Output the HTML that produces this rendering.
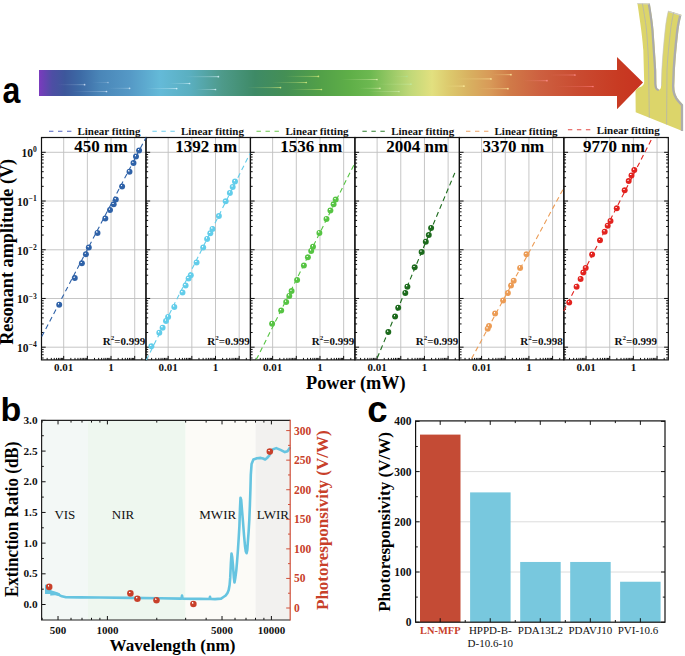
<!DOCTYPE html>
<html><head><meta charset="utf-8"><title>Figure</title>
<style>html,body{margin:0;padding:0;background:#fff;width:685px;height:656px;overflow:hidden;}svg{display:block;}</style>
</head><body>
<svg width="685" height="656" viewBox="0 0 685 656"><defs><linearGradient id="sk0" x1="0" x2="1" y1="0" y2="0"><stop offset="0" stop-color="#cfe0f5" stop-opacity="0"/><stop offset="0.7" stop-color="#cfe0f5" stop-opacity="0.225"/><stop offset="1" stop-color="#cfe0f5" stop-opacity="0.45"/></linearGradient><linearGradient id="sk1" x1="0" x2="1" y1="0" y2="0"><stop offset="0" stop-color="#e0ecff" stop-opacity="0"/><stop offset="0.7" stop-color="#e0ecff" stop-opacity="0.225"/><stop offset="1" stop-color="#e0ecff" stop-opacity="0.45"/></linearGradient><linearGradient id="sk2" x1="0" x2="1" y1="0" y2="0"><stop offset="0" stop-color="#d0e8f8" stop-opacity="0"/><stop offset="0.7" stop-color="#d0e8f8" stop-opacity="0.225"/><stop offset="1" stop-color="#d0e8f8" stop-opacity="0.45"/></linearGradient><linearGradient id="sk3" x1="0" x2="1" y1="0" y2="0"><stop offset="0" stop-color="#a0c0e0" stop-opacity="0"/><stop offset="0.7" stop-color="#a0c0e0" stop-opacity="0.225"/><stop offset="1" stop-color="#a0c0e0" stop-opacity="0.45"/></linearGradient><linearGradient id="sk4" x1="0" x2="1" y1="0" y2="0"><stop offset="0" stop-color="#d8f4ff" stop-opacity="0"/><stop offset="0.7" stop-color="#d8f4ff" stop-opacity="0.35"/><stop offset="1" stop-color="#d8f4ff" stop-opacity="0.7"/></linearGradient><linearGradient id="sk5" x1="0" x2="1" y1="0" y2="0"><stop offset="0" stop-color="#d8f4ff" stop-opacity="0"/><stop offset="0.7" stop-color="#d8f4ff" stop-opacity="0.35"/><stop offset="1" stop-color="#d8f4ff" stop-opacity="0.7"/></linearGradient><linearGradient id="sk6" x1="0" x2="1" y1="0" y2="0"><stop offset="0" stop-color="#d8f4ff" stop-opacity="0"/><stop offset="0.7" stop-color="#d8f4ff" stop-opacity="0.35"/><stop offset="1" stop-color="#d8f4ff" stop-opacity="0.7"/></linearGradient><linearGradient id="sk7" x1="0" x2="1" y1="0" y2="0"><stop offset="0" stop-color="#d8f4ff" stop-opacity="0"/><stop offset="0.7" stop-color="#d8f4ff" stop-opacity="0.35"/><stop offset="1" stop-color="#d8f4ff" stop-opacity="0.7"/></linearGradient><linearGradient id="sk8" x1="0" x2="1" y1="0" y2="0"><stop offset="0" stop-color="#d8ec80" stop-opacity="0"/><stop offset="0.7" stop-color="#d8ec80" stop-opacity="0.35"/><stop offset="1" stop-color="#d8ec80" stop-opacity="0.7"/></linearGradient><linearGradient id="sk9" x1="0" x2="1" y1="0" y2="0"><stop offset="0" stop-color="#d8ec80" stop-opacity="0"/><stop offset="0.7" stop-color="#d8ec80" stop-opacity="0.35"/><stop offset="1" stop-color="#d8ec80" stop-opacity="0.7"/></linearGradient><linearGradient id="sk10" x1="0" x2="1" y1="0" y2="0"><stop offset="0" stop-color="#d8ec80" stop-opacity="0"/><stop offset="0.7" stop-color="#d8ec80" stop-opacity="0.35"/><stop offset="1" stop-color="#d8ec80" stop-opacity="0.7"/></linearGradient><linearGradient id="sk11" x1="0" x2="1" y1="0" y2="0"><stop offset="0" stop-color="#d8ec80" stop-opacity="0"/><stop offset="0.7" stop-color="#d8ec80" stop-opacity="0.35"/><stop offset="1" stop-color="#d8ec80" stop-opacity="0.7"/></linearGradient><linearGradient id="sk12" x1="0" x2="1" y1="0" y2="0"><stop offset="0" stop-color="#e0f0b0" stop-opacity="0"/><stop offset="0.7" stop-color="#e0f0b0" stop-opacity="0.35"/><stop offset="1" stop-color="#e0f0b0" stop-opacity="0.7"/></linearGradient><linearGradient id="sk13" x1="0" x2="1" y1="0" y2="0"><stop offset="0" stop-color="#c0e8a0" stop-opacity="0"/><stop offset="0.7" stop-color="#c0e8a0" stop-opacity="0.35"/><stop offset="1" stop-color="#c0e8a0" stop-opacity="0.7"/></linearGradient><linearGradient id="sk14" x1="0" x2="1" y1="0" y2="0"><stop offset="0" stop-color="#e0f0b0" stop-opacity="0"/><stop offset="0.7" stop-color="#e0f0b0" stop-opacity="0.35"/><stop offset="1" stop-color="#e0f0b0" stop-opacity="0.7"/></linearGradient><linearGradient id="sk15" x1="0" x2="1" y1="0" y2="0"><stop offset="0" stop-color="#c8eca8" stop-opacity="0"/><stop offset="0.7" stop-color="#c8eca8" stop-opacity="0.35"/><stop offset="1" stop-color="#c8eca8" stop-opacity="0.7"/></linearGradient><linearGradient id="sk16" x1="0" x2="1" y1="0" y2="0"><stop offset="0" stop-color="#b0e090" stop-opacity="0"/><stop offset="0.7" stop-color="#b0e090" stop-opacity="0.35"/><stop offset="1" stop-color="#b0e090" stop-opacity="0.7"/></linearGradient><linearGradient id="sk17" x1="0" x2="1" y1="0" y2="0"><stop offset="0" stop-color="#fff0a0" stop-opacity="0"/><stop offset="0.7" stop-color="#fff0a0" stop-opacity="0.35"/><stop offset="1" stop-color="#fff0a0" stop-opacity="0.7"/></linearGradient><linearGradient id="sk18" x1="0" x2="1" y1="0" y2="0"><stop offset="0" stop-color="#fff0a0" stop-opacity="0"/><stop offset="0.7" stop-color="#fff0a0" stop-opacity="0.35"/><stop offset="1" stop-color="#fff0a0" stop-opacity="0.7"/></linearGradient><linearGradient id="sk19" x1="0" x2="1" y1="0" y2="0"><stop offset="0" stop-color="#fff0a0" stop-opacity="0"/><stop offset="0.7" stop-color="#fff0a0" stop-opacity="0.35"/><stop offset="1" stop-color="#fff0a0" stop-opacity="0.7"/></linearGradient><linearGradient id="sk20" x1="0" x2="1" y1="0" y2="0"><stop offset="0" stop-color="#fff0a0" stop-opacity="0"/><stop offset="0.7" stop-color="#fff0a0" stop-opacity="0.35"/><stop offset="1" stop-color="#fff0a0" stop-opacity="0.7"/></linearGradient><linearGradient id="sk21" x1="0" x2="1" y1="0" y2="0"><stop offset="0" stop-color="#ff9090" stop-opacity="0"/><stop offset="0.7" stop-color="#ff9090" stop-opacity="0.35"/><stop offset="1" stop-color="#ff9090" stop-opacity="0.7"/></linearGradient><linearGradient id="sk22" x1="0" x2="1" y1="0" y2="0"><stop offset="0" stop-color="#ff9090" stop-opacity="0"/><stop offset="0.7" stop-color="#ff9090" stop-opacity="0.35"/><stop offset="1" stop-color="#ff9090" stop-opacity="0.7"/></linearGradient><linearGradient id="sk23" x1="0" x2="1" y1="0" y2="0"><stop offset="0" stop-color="#ff8080" stop-opacity="0"/><stop offset="0.7" stop-color="#ff8080" stop-opacity="0.35"/><stop offset="1" stop-color="#ff8080" stop-opacity="0.7"/></linearGradient></defs>
<defs><radialGradient id="gb1" cx="0.5" cy="0.5" r="0.5" fx="0.36" fy="0.3"><stop offset="0" stop-color="#ffffff"/><stop offset="0.1" stop-color="#ffffff" stop-opacity="0.9"/><stop offset="0.33" stop-color="#2f62a8"/><stop offset="0.85" stop-color="#2f62a8"/><stop offset="1" stop-color="#2f62a8" stop-opacity="0.9"/></radialGradient><radialGradient id="gb2" cx="0.5" cy="0.5" r="0.5" fx="0.36" fy="0.3"><stop offset="0" stop-color="#ffffff"/><stop offset="0.1" stop-color="#ffffff" stop-opacity="0.9"/><stop offset="0.33" stop-color="#62cdea"/><stop offset="0.85" stop-color="#62cdea"/><stop offset="1" stop-color="#62cdea" stop-opacity="0.9"/></radialGradient><radialGradient id="gb3" cx="0.5" cy="0.5" r="0.5" fx="0.36" fy="0.3"><stop offset="0" stop-color="#ffffff"/><stop offset="0.1" stop-color="#ffffff" stop-opacity="0.9"/><stop offset="0.33" stop-color="#56c443"/><stop offset="0.85" stop-color="#56c443"/><stop offset="1" stop-color="#56c443" stop-opacity="0.9"/></radialGradient><radialGradient id="gb4" cx="0.5" cy="0.5" r="0.5" fx="0.36" fy="0.3"><stop offset="0" stop-color="#ffffff"/><stop offset="0.1" stop-color="#ffffff" stop-opacity="0.9"/><stop offset="0.33" stop-color="#1c6a1c"/><stop offset="0.85" stop-color="#1c6a1c"/><stop offset="1" stop-color="#1c6a1c" stop-opacity="0.9"/></radialGradient><radialGradient id="gb5" cx="0.5" cy="0.5" r="0.5" fx="0.36" fy="0.3"><stop offset="0" stop-color="#ffffff"/><stop offset="0.1" stop-color="#ffffff" stop-opacity="0.9"/><stop offset="0.33" stop-color="#ec9c55"/><stop offset="0.85" stop-color="#ec9c55"/><stop offset="1" stop-color="#ec9c55" stop-opacity="0.9"/></radialGradient><radialGradient id="gb6" cx="0.5" cy="0.5" r="0.5" fx="0.36" fy="0.3"><stop offset="0" stop-color="#ffffff"/><stop offset="0.1" stop-color="#ffffff" stop-opacity="0.9"/><stop offset="0.33" stop-color="#e2231f"/><stop offset="0.85" stop-color="#e2231f"/><stop offset="1" stop-color="#e2231f" stop-opacity="0.9"/></radialGradient><radialGradient id="grd" cx="0.5" cy="0.5" r="0.5" fx="0.36" fy="0.3"><stop offset="0" stop-color="#ffffff"/><stop offset="0.1" stop-color="#ffffff" stop-opacity="0.9"/><stop offset="0.33" stop-color="#c8402a"/><stop offset="0.85" stop-color="#c8402a"/><stop offset="1" stop-color="#c8402a" stop-opacity="0.9"/></radialGradient><linearGradient id="arrg" gradientUnits="userSpaceOnUse" x1="39" y1="0" x2="643" y2="0"><stop offset="0.0000" stop-color="#7b3bbe"/><stop offset="0.0066" stop-color="#6d40b6"/><stop offset="0.0215" stop-color="#4e4ea4"/><stop offset="0.0430" stop-color="#3d579b"/><stop offset="0.0679" stop-color="#3d6aa5"/><stop offset="0.1010" stop-color="#4a86b8"/><stop offset="0.1507" stop-color="#5599c6"/><stop offset="0.2003" stop-color="#64bad8"/><stop offset="0.2500" stop-color="#5aafc0"/><stop offset="0.3030" stop-color="#4e9a8a"/><stop offset="0.3576" stop-color="#3e8a66"/><stop offset="0.4073" stop-color="#448f55"/><stop offset="0.4652" stop-color="#52a048"/><stop offset="0.5149" stop-color="#5faf48"/><stop offset="0.5480" stop-color="#6cb850"/><stop offset="0.5811" stop-color="#96c865"/><stop offset="0.6142" stop-color="#c0d878"/><stop offset="0.6507" stop-color="#e2e07f"/><stop offset="0.6805" stop-color="#dcc86c"/><stop offset="0.7136" stop-color="#d8b060"/><stop offset="0.7467" stop-color="#d89a58"/><stop offset="0.7798" stop-color="#d07a48"/><stop offset="0.8295" stop-color="#cd6040"/><stop offset="0.8957" stop-color="#c94a30"/><stop offset="0.9619" stop-color="#c83a22"/><stop offset="1.0000" stop-color="#c83220"/></linearGradient><linearGradient id="streak" x1="0" x2="1" y1="0" y2="0"><stop offset="0" stop-color="#fff" stop-opacity="0"/><stop offset="1" stop-color="#fff" stop-opacity="0.75"/></linearGradient></defs>
<path d="M39,70 L617,70 L617,57 L643,82.6 L617,109.2 L617,96 L39,96 Z" fill="url(#arrg)"/>
<rect x="57" y="84.25" width="27.599999999999994" height="0.9" fill="url(#sk0)"/>
<circle cx="84.6" cy="84.7" r="0.85" fill="#cfe0f5" fill-opacity="0.8"/>
<rect x="72" y="91.05" width="34.5" height="0.9" fill="url(#sk1)"/>
<circle cx="106.5" cy="91.5" r="0.85" fill="#e0ecff" fill-opacity="0.8"/>
<rect x="108" y="87.85" width="21.599999999999994" height="0.9" fill="url(#sk2)"/>
<circle cx="129.6" cy="88.3" r="0.85" fill="#d0e8f8" fill-opacity="0.8"/>
<rect x="92" y="82.05" width="16" height="0.9" fill="url(#sk3)"/>
<circle cx="108" cy="82.5" r="0.85" fill="#a0c0e0" fill-opacity="0.8"/>
<rect x="146" y="88.14999999999999" width="30.69999999999999" height="0.9" fill="url(#sk4)"/>
<circle cx="176.7" cy="88.6" r="0.85" fill="#d8f4ff" fill-opacity="0.8"/>
<rect x="170" y="83.05" width="19.599999999999994" height="0.9" fill="url(#sk5)"/>
<circle cx="189.6" cy="83.5" r="0.85" fill="#d8f4ff" fill-opacity="0.8"/>
<rect x="185" y="76.25" width="33.400000000000006" height="0.9" fill="url(#sk6)"/>
<circle cx="218.4" cy="76.7" r="0.85" fill="#d8f4ff" fill-opacity="0.8"/>
<rect x="196" y="89.05" width="19.5" height="0.9" fill="url(#sk7)"/>
<circle cx="215.5" cy="89.5" r="0.85" fill="#d8f4ff" fill-opacity="0.8"/>
<rect x="285" y="75.95" width="33.39999999999998" height="0.9" fill="url(#sk8)"/>
<circle cx="318.4" cy="76.4" r="0.85" fill="#d8ec80" fill-opacity="0.8"/>
<rect x="272" y="82.05" width="34.30000000000001" height="0.9" fill="url(#sk9)"/>
<circle cx="306.3" cy="82.5" r="0.85" fill="#d8ec80" fill-opacity="0.8"/>
<rect x="247" y="87.14999999999999" width="33.5" height="0.9" fill="url(#sk10)"/>
<circle cx="280.5" cy="87.6" r="0.85" fill="#d8ec80" fill-opacity="0.8"/>
<rect x="290" y="89.05" width="31.399999999999977" height="0.9" fill="url(#sk11)"/>
<circle cx="321.4" cy="89.5" r="0.85" fill="#d8ec80" fill-opacity="0.8"/>
<rect x="341" y="79.05" width="36" height="0.9" fill="url(#sk12)"/>
<circle cx="377" cy="79.5" r="0.85" fill="#e0f0b0" fill-opacity="0.8"/>
<rect x="376" y="83.75" width="35" height="0.9" fill="url(#sk13)"/>
<circle cx="411" cy="84.2" r="0.85" fill="#c0e8a0" fill-opacity="0.8"/>
<rect x="359" y="87.85" width="21" height="0.9" fill="url(#sk14)"/>
<circle cx="380" cy="88.3" r="0.85" fill="#e0f0b0" fill-opacity="0.8"/>
<rect x="368" y="91.05" width="31" height="0.9" fill="url(#sk15)"/>
<circle cx="399" cy="91.5" r="0.85" fill="#c8eca8" fill-opacity="0.8"/>
<rect x="393" y="75.95" width="14" height="0.9" fill="url(#sk16)"/>
<circle cx="407" cy="76.4" r="0.85" fill="#b0e090" fill-opacity="0.8"/>
<rect x="455" y="78.45" width="36" height="0.9" fill="url(#sk17)"/>
<circle cx="491" cy="78.9" r="0.85" fill="#fff0a0" fill-opacity="0.8"/>
<rect x="445" y="85.64999999999999" width="19" height="0.9" fill="url(#sk18)"/>
<circle cx="464" cy="86.1" r="0.85" fill="#fff0a0" fill-opacity="0.8"/>
<rect x="478" y="88.25" width="30" height="0.9" fill="url(#sk19)"/>
<circle cx="508" cy="88.7" r="0.85" fill="#fff0a0" fill-opacity="0.8"/>
<rect x="492" y="74.25" width="19" height="0.9" fill="url(#sk20)"/>
<circle cx="511" cy="74.7" r="0.85" fill="#fff0a0" fill-opacity="0.8"/>
<rect x="550" y="74.55" width="25" height="0.9" fill="url(#sk21)"/>
<circle cx="575" cy="75" r="0.85" fill="#ff9090" fill-opacity="0.8"/>
<rect x="523" y="80.25" width="24" height="0.9" fill="url(#sk22)"/>
<circle cx="547" cy="80.7" r="0.85" fill="#ff9090" fill-opacity="0.8"/>
<rect x="556" y="86.05" width="37" height="0.9" fill="url(#sk23)"/>
<circle cx="593" cy="86.5" r="0.85" fill="#ff8080" fill-opacity="0.8"/>
<path d="M637.4,3.2 L649.7,3.6 C651.5,14 652.8,22 653.5,30 C654.6,45 655.6,60 656.2,70 L656.4,84 C656.6,88 657.5,89.8 658.8,89.8 C660.2,89.8 661,88.5 661.1,86 L661.8,70 C662.6,55 663.8,42 665.1,30 C665.9,22 667,16 668.3,10.8 L681.4,14.8 C680,20 679.2,25 678.5,30 C676.8,45 675.6,58 674.9,70 L674.3,86 C674.2,92 676,97 679.5,100.8 L683,104.8 L683,131.2 L635.7,112.3 L635.5,91 C636,89 637.5,88 639,87.5 C642,86.5 644.2,85 644.2,82 L643.3,50 C642.5,38 641,27 637.4,3.2 Z" fill="#dcd56a"/>
<path d="M648.8,3.8 C650.5,14 651.7,22 652.4,30 C653.5,45 654.5,60 655.1,70 L655.3,84 C655.5,88.5 657,90 658.8,90" fill="none" stroke="#aaaaaa" stroke-width="2.2"/>
<path d="M680.3,15 C679,20 678,25 677.3,30 C675.6,45 674.4,58 673.7,70 L673.1,86 C673,92.5 675,97.5 678.6,101.5 L682,105.3 L682,131" fill="none" stroke="#adadad" stroke-width="2.3"/>
<path d="M668.3,11.3 L681.2,15.3" stroke="#cfcfcf" stroke-width="1.3"/>
<path d="M637.4,3.6 L649.5,4" stroke="#d0d0d0" stroke-width="1.0"/>
<path d="M661.5,86 L661.9,70 C662.7,55 663.9,42 665.2,30 C666,22 667.1,16 668.4,11" fill="none" stroke="#c4c4c4" stroke-width="0.6"/>
<path d="M642.4,3.7 C644.5,15 646,25 646.5,30 C647.8,45 648.5,58 648.7,70 L649.3,117.6" fill="none" stroke="#b4b4ac" stroke-width="0.8"/>
<path d="M673.6,12.5 C672,20 671,26 670.6,30 C669,45 667.5,58 667,70 L666.6,124.5" fill="none" stroke="#b4b4ac" stroke-width="0.8"/>
<line x1="63.70" y1="137.5" x2="63.70" y2="359.9" stroke="#bfbfbf" stroke-width="0.9"/>
<line x1="87.37" y1="137.5" x2="87.37" y2="359.9" stroke="#bfbfbf" stroke-width="0.9"/>
<line x1="111.04" y1="137.5" x2="111.04" y2="359.9" stroke="#bfbfbf" stroke-width="0.9"/>
<line x1="134.71" y1="137.5" x2="134.71" y2="359.9" stroke="#bfbfbf" stroke-width="0.9"/>
<line x1="41.5" y1="152.3" x2="145.97" y2="152.3" stroke="#bfbfbf" stroke-width="0.9"/>
<line x1="41.5" y1="201.0" x2="145.97" y2="201.0" stroke="#bfbfbf" stroke-width="0.9"/>
<line x1="41.5" y1="249.8" x2="145.97" y2="249.8" stroke="#bfbfbf" stroke-width="0.9"/>
<line x1="41.5" y1="298.5" x2="145.97" y2="298.5" stroke="#bfbfbf" stroke-width="0.9"/>
<line x1="41.5" y1="347.2" x2="145.97" y2="347.2" stroke="#bfbfbf" stroke-width="0.9"/>
<line x1="168.17" y1="137.5" x2="168.17" y2="359.9" stroke="#bfbfbf" stroke-width="0.9"/>
<line x1="191.84" y1="137.5" x2="191.84" y2="359.9" stroke="#bfbfbf" stroke-width="0.9"/>
<line x1="215.51" y1="137.5" x2="215.51" y2="359.9" stroke="#bfbfbf" stroke-width="0.9"/>
<line x1="239.18" y1="137.5" x2="239.18" y2="359.9" stroke="#bfbfbf" stroke-width="0.9"/>
<line x1="145.97" y1="152.3" x2="250.44" y2="152.3" stroke="#bfbfbf" stroke-width="0.9"/>
<line x1="145.97" y1="201.0" x2="250.44" y2="201.0" stroke="#bfbfbf" stroke-width="0.9"/>
<line x1="145.97" y1="249.8" x2="250.44" y2="249.8" stroke="#bfbfbf" stroke-width="0.9"/>
<line x1="145.97" y1="298.5" x2="250.44" y2="298.5" stroke="#bfbfbf" stroke-width="0.9"/>
<line x1="145.97" y1="347.2" x2="250.44" y2="347.2" stroke="#bfbfbf" stroke-width="0.9"/>
<line x1="272.64" y1="137.5" x2="272.64" y2="359.9" stroke="#bfbfbf" stroke-width="0.9"/>
<line x1="296.31" y1="137.5" x2="296.31" y2="359.9" stroke="#bfbfbf" stroke-width="0.9"/>
<line x1="319.98" y1="137.5" x2="319.98" y2="359.9" stroke="#bfbfbf" stroke-width="0.9"/>
<line x1="343.65" y1="137.5" x2="343.65" y2="359.9" stroke="#bfbfbf" stroke-width="0.9"/>
<line x1="250.44" y1="152.3" x2="354.90999999999997" y2="152.3" stroke="#bfbfbf" stroke-width="0.9"/>
<line x1="250.44" y1="201.0" x2="354.90999999999997" y2="201.0" stroke="#bfbfbf" stroke-width="0.9"/>
<line x1="250.44" y1="249.8" x2="354.90999999999997" y2="249.8" stroke="#bfbfbf" stroke-width="0.9"/>
<line x1="250.44" y1="298.5" x2="354.90999999999997" y2="298.5" stroke="#bfbfbf" stroke-width="0.9"/>
<line x1="250.44" y1="347.2" x2="354.90999999999997" y2="347.2" stroke="#bfbfbf" stroke-width="0.9"/>
<line x1="377.11" y1="137.5" x2="377.11" y2="359.9" stroke="#bfbfbf" stroke-width="0.9"/>
<line x1="400.78" y1="137.5" x2="400.78" y2="359.9" stroke="#bfbfbf" stroke-width="0.9"/>
<line x1="424.45" y1="137.5" x2="424.45" y2="359.9" stroke="#bfbfbf" stroke-width="0.9"/>
<line x1="448.12" y1="137.5" x2="448.12" y2="359.9" stroke="#bfbfbf" stroke-width="0.9"/>
<line x1="354.90999999999997" y1="152.3" x2="459.38" y2="152.3" stroke="#bfbfbf" stroke-width="0.9"/>
<line x1="354.90999999999997" y1="201.0" x2="459.38" y2="201.0" stroke="#bfbfbf" stroke-width="0.9"/>
<line x1="354.90999999999997" y1="249.8" x2="459.38" y2="249.8" stroke="#bfbfbf" stroke-width="0.9"/>
<line x1="354.90999999999997" y1="298.5" x2="459.38" y2="298.5" stroke="#bfbfbf" stroke-width="0.9"/>
<line x1="354.90999999999997" y1="347.2" x2="459.38" y2="347.2" stroke="#bfbfbf" stroke-width="0.9"/>
<line x1="481.58" y1="137.5" x2="481.58" y2="359.9" stroke="#bfbfbf" stroke-width="0.9"/>
<line x1="505.25" y1="137.5" x2="505.25" y2="359.9" stroke="#bfbfbf" stroke-width="0.9"/>
<line x1="528.92" y1="137.5" x2="528.92" y2="359.9" stroke="#bfbfbf" stroke-width="0.9"/>
<line x1="552.59" y1="137.5" x2="552.59" y2="359.9" stroke="#bfbfbf" stroke-width="0.9"/>
<line x1="459.38" y1="152.3" x2="563.85" y2="152.3" stroke="#bfbfbf" stroke-width="0.9"/>
<line x1="459.38" y1="201.0" x2="563.85" y2="201.0" stroke="#bfbfbf" stroke-width="0.9"/>
<line x1="459.38" y1="249.8" x2="563.85" y2="249.8" stroke="#bfbfbf" stroke-width="0.9"/>
<line x1="459.38" y1="298.5" x2="563.85" y2="298.5" stroke="#bfbfbf" stroke-width="0.9"/>
<line x1="459.38" y1="347.2" x2="563.85" y2="347.2" stroke="#bfbfbf" stroke-width="0.9"/>
<line x1="586.05" y1="137.5" x2="586.05" y2="359.9" stroke="#bfbfbf" stroke-width="0.9"/>
<line x1="609.72" y1="137.5" x2="609.72" y2="359.9" stroke="#bfbfbf" stroke-width="0.9"/>
<line x1="633.39" y1="137.5" x2="633.39" y2="359.9" stroke="#bfbfbf" stroke-width="0.9"/>
<line x1="657.06" y1="137.5" x2="657.06" y2="359.9" stroke="#bfbfbf" stroke-width="0.9"/>
<line x1="563.85" y1="152.3" x2="668.3199999999999" y2="152.3" stroke="#bfbfbf" stroke-width="0.9"/>
<line x1="563.85" y1="201.0" x2="668.3199999999999" y2="201.0" stroke="#bfbfbf" stroke-width="0.9"/>
<line x1="563.85" y1="249.8" x2="668.3199999999999" y2="249.8" stroke="#bfbfbf" stroke-width="0.9"/>
<line x1="563.85" y1="298.5" x2="668.3199999999999" y2="298.5" stroke="#bfbfbf" stroke-width="0.9"/>
<line x1="563.85" y1="347.2" x2="668.3199999999999" y2="347.2" stroke="#bfbfbf" stroke-width="0.9"/>
<path d="M41.50,357.99h2.2M41.50,354.73h2.2M41.50,351.90h2.2M41.50,349.41h2.2M41.50,347.18h4.2M41.50,332.51h2.2M41.50,323.93h2.2M41.50,317.85h2.2M41.50,313.13h2.2M41.50,309.27h2.2M41.50,306.01h2.2M41.50,303.18h2.2M41.50,300.69h2.2M41.50,298.46h4.2M41.50,283.79h2.2M41.50,275.21h2.2M41.50,269.13h2.2M41.50,264.41h2.2M41.50,260.55h2.2M41.50,257.29h2.2M41.50,254.46h2.2M41.50,251.97h2.2M41.50,249.74h4.2M41.50,235.07h2.2M41.50,226.49h2.2M41.50,220.41h2.2M41.50,215.69h2.2M41.50,211.83h2.2M41.50,208.57h2.2M41.50,205.74h2.2M41.50,203.25h2.2M41.50,201.02h4.2M41.50,186.35h2.2M41.50,177.77h2.2M41.50,171.69h2.2M41.50,166.97h2.2M41.50,163.11h2.2M41.50,159.85h2.2M41.50,157.02h2.2M41.50,154.53h2.2M41.50,152.30h4.2M41.50,137.63h2.2M47.16,359.9v-2.0M51.32,359.9v-2.0M54.28,359.9v-2.0M56.57,359.9v-2.0M58.45,359.9v-2.0M60.03,359.9v-2.0M61.41,359.9v-2.0M62.62,359.9v-2.0M63.70,359.9v-4.0M70.83,359.9v-2.0M74.99,359.9v-2.0M77.95,359.9v-2.0M80.24,359.9v-2.0M82.12,359.9v-2.0M83.70,359.9v-2.0M85.08,359.9v-2.0M86.29,359.9v-2.0M87.37,359.9v-4.0M94.50,359.9v-2.0M98.66,359.9v-2.0M101.62,359.9v-2.0M103.91,359.9v-2.0M105.79,359.9v-2.0M107.37,359.9v-2.0M108.75,359.9v-2.0M109.96,359.9v-2.0M111.04,359.9v-4.0M118.17,359.9v-2.0M122.33,359.9v-2.0M125.29,359.9v-2.0M127.58,359.9v-2.0M129.46,359.9v-2.0M131.04,359.9v-2.0M132.42,359.9v-2.0M133.63,359.9v-2.0M134.71,359.9v-4.0M141.84,359.9v-2.0M145.97,357.99h2.2M145.97,354.73h2.2M145.97,351.90h2.2M145.97,349.41h2.2M145.97,347.18h4.2M145.97,332.51h2.2M145.97,323.93h2.2M145.97,317.85h2.2M145.97,313.13h2.2M145.97,309.27h2.2M145.97,306.01h2.2M145.97,303.18h2.2M145.97,300.69h2.2M145.97,298.46h4.2M145.97,283.79h2.2M145.97,275.21h2.2M145.97,269.13h2.2M145.97,264.41h2.2M145.97,260.55h2.2M145.97,257.29h2.2M145.97,254.46h2.2M145.97,251.97h2.2M145.97,249.74h4.2M145.97,235.07h2.2M145.97,226.49h2.2M145.97,220.41h2.2M145.97,215.69h2.2M145.97,211.83h2.2M145.97,208.57h2.2M145.97,205.74h2.2M145.97,203.25h2.2M145.97,201.02h4.2M145.97,186.35h2.2M145.97,177.77h2.2M145.97,171.69h2.2M145.97,166.97h2.2M145.97,163.11h2.2M145.97,159.85h2.2M145.97,157.02h2.2M145.97,154.53h2.2M145.97,152.30h4.2M145.97,137.63h2.2M151.63,359.9v-2.0M155.79,359.9v-2.0M158.75,359.9v-2.0M161.04,359.9v-2.0M162.92,359.9v-2.0M164.50,359.9v-2.0M165.88,359.9v-2.0M167.09,359.9v-2.0M168.17,359.9v-4.0M175.30,359.9v-2.0M179.46,359.9v-2.0M182.42,359.9v-2.0M184.71,359.9v-2.0M186.59,359.9v-2.0M188.17,359.9v-2.0M189.55,359.9v-2.0M190.76,359.9v-2.0M191.84,359.9v-4.0M198.97,359.9v-2.0M203.13,359.9v-2.0M206.09,359.9v-2.0M208.38,359.9v-2.0M210.26,359.9v-2.0M211.84,359.9v-2.0M213.22,359.9v-2.0M214.43,359.9v-2.0M215.51,359.9v-4.0M222.64,359.9v-2.0M226.80,359.9v-2.0M229.76,359.9v-2.0M232.05,359.9v-2.0M233.93,359.9v-2.0M235.51,359.9v-2.0M236.89,359.9v-2.0M238.10,359.9v-2.0M239.18,359.9v-4.0M246.31,359.9v-2.0M250.44,357.99h2.2M250.44,354.73h2.2M250.44,351.90h2.2M250.44,349.41h2.2M250.44,347.18h4.2M250.44,332.51h2.2M250.44,323.93h2.2M250.44,317.85h2.2M250.44,313.13h2.2M250.44,309.27h2.2M250.44,306.01h2.2M250.44,303.18h2.2M250.44,300.69h2.2M250.44,298.46h4.2M250.44,283.79h2.2M250.44,275.21h2.2M250.44,269.13h2.2M250.44,264.41h2.2M250.44,260.55h2.2M250.44,257.29h2.2M250.44,254.46h2.2M250.44,251.97h2.2M250.44,249.74h4.2M250.44,235.07h2.2M250.44,226.49h2.2M250.44,220.41h2.2M250.44,215.69h2.2M250.44,211.83h2.2M250.44,208.57h2.2M250.44,205.74h2.2M250.44,203.25h2.2M250.44,201.02h4.2M250.44,186.35h2.2M250.44,177.77h2.2M250.44,171.69h2.2M250.44,166.97h2.2M250.44,163.11h2.2M250.44,159.85h2.2M250.44,157.02h2.2M250.44,154.53h2.2M250.44,152.30h4.2M250.44,137.63h2.2M256.10,359.9v-2.0M260.26,359.9v-2.0M263.22,359.9v-2.0M265.51,359.9v-2.0M267.39,359.9v-2.0M268.97,359.9v-2.0M270.35,359.9v-2.0M271.56,359.9v-2.0M272.64,359.9v-4.0M279.77,359.9v-2.0M283.93,359.9v-2.0M286.89,359.9v-2.0M289.18,359.9v-2.0M291.06,359.9v-2.0M292.64,359.9v-2.0M294.02,359.9v-2.0M295.23,359.9v-2.0M296.31,359.9v-4.0M303.44,359.9v-2.0M307.60,359.9v-2.0M310.56,359.9v-2.0M312.85,359.9v-2.0M314.73,359.9v-2.0M316.31,359.9v-2.0M317.69,359.9v-2.0M318.90,359.9v-2.0M319.98,359.9v-4.0M327.11,359.9v-2.0M331.27,359.9v-2.0M334.23,359.9v-2.0M336.52,359.9v-2.0M338.40,359.9v-2.0M339.98,359.9v-2.0M341.36,359.9v-2.0M342.57,359.9v-2.0M343.65,359.9v-4.0M350.78,359.9v-2.0M354.91,357.99h2.2M354.91,354.73h2.2M354.91,351.90h2.2M354.91,349.41h2.2M354.91,347.18h4.2M354.91,332.51h2.2M354.91,323.93h2.2M354.91,317.85h2.2M354.91,313.13h2.2M354.91,309.27h2.2M354.91,306.01h2.2M354.91,303.18h2.2M354.91,300.69h2.2M354.91,298.46h4.2M354.91,283.79h2.2M354.91,275.21h2.2M354.91,269.13h2.2M354.91,264.41h2.2M354.91,260.55h2.2M354.91,257.29h2.2M354.91,254.46h2.2M354.91,251.97h2.2M354.91,249.74h4.2M354.91,235.07h2.2M354.91,226.49h2.2M354.91,220.41h2.2M354.91,215.69h2.2M354.91,211.83h2.2M354.91,208.57h2.2M354.91,205.74h2.2M354.91,203.25h2.2M354.91,201.02h4.2M354.91,186.35h2.2M354.91,177.77h2.2M354.91,171.69h2.2M354.91,166.97h2.2M354.91,163.11h2.2M354.91,159.85h2.2M354.91,157.02h2.2M354.91,154.53h2.2M354.91,152.30h4.2M354.91,137.63h2.2M360.57,359.9v-2.0M364.73,359.9v-2.0M367.69,359.9v-2.0M369.98,359.9v-2.0M371.86,359.9v-2.0M373.44,359.9v-2.0M374.82,359.9v-2.0M376.03,359.9v-2.0M377.11,359.9v-4.0M384.24,359.9v-2.0M388.40,359.9v-2.0M391.36,359.9v-2.0M393.65,359.9v-2.0M395.53,359.9v-2.0M397.11,359.9v-2.0M398.49,359.9v-2.0M399.70,359.9v-2.0M400.78,359.9v-4.0M407.91,359.9v-2.0M412.07,359.9v-2.0M415.03,359.9v-2.0M417.32,359.9v-2.0M419.20,359.9v-2.0M420.78,359.9v-2.0M422.16,359.9v-2.0M423.37,359.9v-2.0M424.45,359.9v-4.0M431.58,359.9v-2.0M435.74,359.9v-2.0M438.70,359.9v-2.0M440.99,359.9v-2.0M442.87,359.9v-2.0M444.45,359.9v-2.0M445.83,359.9v-2.0M447.04,359.9v-2.0M448.12,359.9v-4.0M455.25,359.9v-2.0M459.38,357.99h2.2M459.38,354.73h2.2M459.38,351.90h2.2M459.38,349.41h2.2M459.38,347.18h4.2M459.38,332.51h2.2M459.38,323.93h2.2M459.38,317.85h2.2M459.38,313.13h2.2M459.38,309.27h2.2M459.38,306.01h2.2M459.38,303.18h2.2M459.38,300.69h2.2M459.38,298.46h4.2M459.38,283.79h2.2M459.38,275.21h2.2M459.38,269.13h2.2M459.38,264.41h2.2M459.38,260.55h2.2M459.38,257.29h2.2M459.38,254.46h2.2M459.38,251.97h2.2M459.38,249.74h4.2M459.38,235.07h2.2M459.38,226.49h2.2M459.38,220.41h2.2M459.38,215.69h2.2M459.38,211.83h2.2M459.38,208.57h2.2M459.38,205.74h2.2M459.38,203.25h2.2M459.38,201.02h4.2M459.38,186.35h2.2M459.38,177.77h2.2M459.38,171.69h2.2M459.38,166.97h2.2M459.38,163.11h2.2M459.38,159.85h2.2M459.38,157.02h2.2M459.38,154.53h2.2M459.38,152.30h4.2M459.38,137.63h2.2M465.04,359.9v-2.0M469.20,359.9v-2.0M472.16,359.9v-2.0M474.45,359.9v-2.0M476.33,359.9v-2.0M477.91,359.9v-2.0M479.29,359.9v-2.0M480.50,359.9v-2.0M481.58,359.9v-4.0M488.71,359.9v-2.0M492.87,359.9v-2.0M495.83,359.9v-2.0M498.12,359.9v-2.0M500.00,359.9v-2.0M501.58,359.9v-2.0M502.96,359.9v-2.0M504.17,359.9v-2.0M505.25,359.9v-4.0M512.38,359.9v-2.0M516.54,359.9v-2.0M519.50,359.9v-2.0M521.79,359.9v-2.0M523.67,359.9v-2.0M525.25,359.9v-2.0M526.63,359.9v-2.0M527.84,359.9v-2.0M528.92,359.9v-4.0M536.05,359.9v-2.0M540.21,359.9v-2.0M543.17,359.9v-2.0M545.46,359.9v-2.0M547.34,359.9v-2.0M548.92,359.9v-2.0M550.30,359.9v-2.0M551.51,359.9v-2.0M552.59,359.9v-4.0M559.72,359.9v-2.0M563.85,357.99h2.2M563.85,354.73h2.2M563.85,351.90h2.2M563.85,349.41h2.2M563.85,347.18h4.2M563.85,332.51h2.2M563.85,323.93h2.2M563.85,317.85h2.2M563.85,313.13h2.2M563.85,309.27h2.2M563.85,306.01h2.2M563.85,303.18h2.2M563.85,300.69h2.2M563.85,298.46h4.2M563.85,283.79h2.2M563.85,275.21h2.2M563.85,269.13h2.2M563.85,264.41h2.2M563.85,260.55h2.2M563.85,257.29h2.2M563.85,254.46h2.2M563.85,251.97h2.2M563.85,249.74h4.2M563.85,235.07h2.2M563.85,226.49h2.2M563.85,220.41h2.2M563.85,215.69h2.2M563.85,211.83h2.2M563.85,208.57h2.2M563.85,205.74h2.2M563.85,203.25h2.2M563.85,201.02h4.2M563.85,186.35h2.2M563.85,177.77h2.2M563.85,171.69h2.2M563.85,166.97h2.2M563.85,163.11h2.2M563.85,159.85h2.2M563.85,157.02h2.2M563.85,154.53h2.2M563.85,152.30h4.2M563.85,137.63h2.2M569.51,359.9v-2.0M573.67,359.9v-2.0M576.63,359.9v-2.0M578.92,359.9v-2.0M580.80,359.9v-2.0M582.38,359.9v-2.0M583.76,359.9v-2.0M584.97,359.9v-2.0M586.05,359.9v-4.0M593.18,359.9v-2.0M597.34,359.9v-2.0M600.30,359.9v-2.0M602.59,359.9v-2.0M604.47,359.9v-2.0M606.05,359.9v-2.0M607.43,359.9v-2.0M608.64,359.9v-2.0M609.72,359.9v-4.0M616.85,359.9v-2.0M621.01,359.9v-2.0M623.97,359.9v-2.0M626.26,359.9v-2.0M628.14,359.9v-2.0M629.72,359.9v-2.0M631.10,359.9v-2.0M632.31,359.9v-2.0M633.39,359.9v-4.0M640.52,359.9v-2.0M644.68,359.9v-2.0M647.64,359.9v-2.0M649.93,359.9v-2.0M651.81,359.9v-2.0M653.39,359.9v-2.0M654.77,359.9v-2.0M655.98,359.9v-2.0M657.06,359.9v-4.0M664.19,359.9v-2.0M668.32,357.99h-2.2M668.32,354.73h-2.2M668.32,351.90h-2.2M668.32,349.41h-2.2M668.32,347.18h-4.2M668.32,332.51h-2.2M668.32,323.93h-2.2M668.32,317.85h-2.2M668.32,313.13h-2.2M668.32,309.27h-2.2M668.32,306.01h-2.2M668.32,303.18h-2.2M668.32,300.69h-2.2M668.32,298.46h-4.2M668.32,283.79h-2.2M668.32,275.21h-2.2M668.32,269.13h-2.2M668.32,264.41h-2.2M668.32,260.55h-2.2M668.32,257.29h-2.2M668.32,254.46h-2.2M668.32,251.97h-2.2M668.32,249.74h-4.2M668.32,235.07h-2.2M668.32,226.49h-2.2M668.32,220.41h-2.2M668.32,215.69h-2.2M668.32,211.83h-2.2M668.32,208.57h-2.2M668.32,205.74h-2.2M668.32,203.25h-2.2M668.32,201.02h-4.2M668.32,186.35h-2.2M668.32,177.77h-2.2M668.32,171.69h-2.2M668.32,166.97h-2.2M668.32,163.11h-2.2M668.32,159.85h-2.2M668.32,157.02h-2.2M668.32,154.53h-2.2M668.32,152.30h-4.2M668.32,137.63h-2.2" stroke="#111" stroke-width="1" fill="none"/>
<rect x="41.50" y="137.5" width="104.47" height="222.40" fill="none" stroke="#111" stroke-width="1.2"/>
<rect x="145.97" y="137.5" width="104.47" height="222.40" fill="none" stroke="#111" stroke-width="1.2"/>
<rect x="250.44" y="137.5" width="104.47" height="222.40" fill="none" stroke="#111" stroke-width="1.2"/>
<rect x="354.91" y="137.5" width="104.47" height="222.40" fill="none" stroke="#111" stroke-width="1.2"/>
<rect x="459.38" y="137.5" width="104.47" height="222.40" fill="none" stroke="#111" stroke-width="1.2"/>
<rect x="563.85" y="137.5" width="104.47" height="222.40" fill="none" stroke="#111" stroke-width="1.2"/>
<line x1="41.8" y1="336.5" x2="146.0" y2="137.5" stroke="#2f62a8" stroke-width="1.1" stroke-dasharray="5 3.5"/>
<circle cx="139.1" cy="150.4" r="3.0" fill="url(#gb1)"/>
<circle cx="136.0" cy="156.6" r="3.0" fill="url(#gb1)"/>
<circle cx="133.5" cy="163.1" r="3.0" fill="url(#gb1)"/>
<circle cx="129.5" cy="171.8" r="3.0" fill="url(#gb1)"/>
<circle cx="122.1" cy="186.4" r="3.0" fill="url(#gb1)"/>
<circle cx="115.8" cy="199.6" r="3.0" fill="url(#gb1)"/>
<circle cx="113.7" cy="204.3" r="3.0" fill="url(#gb1)"/>
<circle cx="110.0" cy="210.1" r="3.0" fill="url(#gb1)"/>
<circle cx="105.3" cy="218.5" r="3.0" fill="url(#gb1)"/>
<circle cx="97.5" cy="232.9" r="3.0" fill="url(#gb1)"/>
<circle cx="88.8" cy="247.6" r="3.0" fill="url(#gb1)"/>
<circle cx="85.9" cy="254.2" r="3.0" fill="url(#gb1)"/>
<circle cx="81.9" cy="263.3" r="3.0" fill="url(#gb1)"/>
<circle cx="74.8" cy="278.1" r="3.0" fill="url(#gb1)"/>
<circle cx="59.2" cy="304.7" r="3.0" fill="url(#gb1)"/>
<line x1="146.3" y1="360.0" x2="250.0" y2="153.5" stroke="#62cdea" stroke-width="1.1" stroke-dasharray="5 3.5"/>
<circle cx="235.0" cy="181.5" r="3.0" fill="url(#gb2)"/>
<circle cx="232.7" cy="186.9" r="3.0" fill="url(#gb2)"/>
<circle cx="229.9" cy="192.9" r="3.0" fill="url(#gb2)"/>
<circle cx="225.7" cy="201.3" r="3.0" fill="url(#gb2)"/>
<circle cx="218.9" cy="216.1" r="3.0" fill="url(#gb2)"/>
<circle cx="212.5" cy="228.9" r="3.0" fill="url(#gb2)"/>
<circle cx="210.3" cy="233.2" r="3.0" fill="url(#gb2)"/>
<circle cx="207.1" cy="238.9" r="3.0" fill="url(#gb2)"/>
<circle cx="203.2" cy="247.6" r="3.0" fill="url(#gb2)"/>
<circle cx="196.6" cy="262.4" r="3.0" fill="url(#gb2)"/>
<circle cx="190.8" cy="275.2" r="3.0" fill="url(#gb2)"/>
<circle cx="188.6" cy="278.5" r="3.0" fill="url(#gb2)"/>
<circle cx="185.6" cy="285.6" r="3.0" fill="url(#gb2)"/>
<circle cx="182.5" cy="292.6" r="3.0" fill="url(#gb2)"/>
<circle cx="174.3" cy="306.9" r="3.0" fill="url(#gb2)"/>
<circle cx="168.1" cy="316.9" r="3.0" fill="url(#gb2)"/>
<circle cx="166.0" cy="321.0" r="3.0" fill="url(#gb2)"/>
<circle cx="162.6" cy="327.7" r="3.0" fill="url(#gb2)"/>
<circle cx="159.3" cy="332.8" r="3.0" fill="url(#gb2)"/>
<circle cx="151.4" cy="346.2" r="3.0" fill="url(#gb2)"/>
<line x1="256.3" y1="359.6" x2="354.8" y2="163.1" stroke="#56c443" stroke-width="1.1" stroke-dasharray="5 3.5"/>
<circle cx="335.7" cy="199.6" r="3.0" fill="url(#gb3)"/>
<circle cx="333.6" cy="204.3" r="3.0" fill="url(#gb3)"/>
<circle cx="330.4" cy="210.4" r="3.0" fill="url(#gb3)"/>
<circle cx="326.5" cy="218.9" r="3.0" fill="url(#gb3)"/>
<circle cx="319.4" cy="232.9" r="3.0" fill="url(#gb3)"/>
<circle cx="313.0" cy="246.7" r="3.0" fill="url(#gb3)"/>
<circle cx="311.2" cy="250.9" r="3.0" fill="url(#gb3)"/>
<circle cx="307.9" cy="257.3" r="3.0" fill="url(#gb3)"/>
<circle cx="303.9" cy="265.5" r="3.0" fill="url(#gb3)"/>
<circle cx="297.1" cy="280.1" r="3.0" fill="url(#gb3)"/>
<circle cx="291.6" cy="291.1" r="3.0" fill="url(#gb3)"/>
<circle cx="289.3" cy="295.9" r="3.0" fill="url(#gb3)"/>
<circle cx="286.2" cy="302.1" r="3.0" fill="url(#gb3)"/>
<circle cx="281.2" cy="310.5" r="3.0" fill="url(#gb3)"/>
<circle cx="272.1" cy="323.7" r="3.0" fill="url(#gb3)"/>
<line x1="377.3" y1="357.8" x2="455.6" y2="171.0" stroke="#1c6a1c" stroke-width="1.1" stroke-dasharray="5 3.5"/>
<circle cx="431.1" cy="228.0" r="3.0" fill="url(#gb4)"/>
<circle cx="428.8" cy="235.0" r="3.0" fill="url(#gb4)"/>
<circle cx="425.8" cy="241.7" r="3.0" fill="url(#gb4)"/>
<circle cx="421.6" cy="252.0" r="3.0" fill="url(#gb4)"/>
<circle cx="414.7" cy="267.3" r="3.0" fill="url(#gb4)"/>
<circle cx="407.4" cy="286.7" r="3.0" fill="url(#gb4)"/>
<circle cx="405.3" cy="293.0" r="3.0" fill="url(#gb4)"/>
<circle cx="398.2" cy="307.8" r="3.0" fill="url(#gb4)"/>
<circle cx="395.1" cy="316.6" r="3.0" fill="url(#gb4)"/>
<circle cx="388.3" cy="332.1" r="3.0" fill="url(#gb4)"/>
<line x1="471.6" y1="358.6" x2="563.6" y2="188.3" stroke="#ec9c55" stroke-width="1.1" stroke-dasharray="5 3.5"/>
<circle cx="526.5" cy="254.2" r="3.0" fill="url(#gb5)"/>
<circle cx="520.1" cy="267.9" r="3.0" fill="url(#gb5)"/>
<circle cx="513.7" cy="280.7" r="3.0" fill="url(#gb5)"/>
<circle cx="511.0" cy="285.6" r="3.0" fill="url(#gb5)"/>
<circle cx="507.9" cy="293.0" r="3.0" fill="url(#gb5)"/>
<circle cx="503.1" cy="300.5" r="3.0" fill="url(#gb5)"/>
<circle cx="495.1" cy="313.6" r="3.0" fill="url(#gb5)"/>
<circle cx="489.0" cy="326.1" r="3.0" fill="url(#gb5)"/>
<circle cx="487.7" cy="328.8" r="3.0" fill="url(#gb5)"/>
<line x1="563.8" y1="310.9" x2="652.4" y2="137.5" stroke="#e2231f" stroke-width="1.1" stroke-dasharray="5 3.5"/>
<circle cx="634.3" cy="170.1" r="3.0" fill="url(#gb6)"/>
<circle cx="631.5" cy="175.4" r="3.0" fill="url(#gb6)"/>
<circle cx="628.7" cy="181.1" r="3.0" fill="url(#gb6)"/>
<circle cx="624.7" cy="190.3" r="3.0" fill="url(#gb6)"/>
<circle cx="616.8" cy="208.3" r="3.0" fill="url(#gb6)"/>
<circle cx="610.5" cy="221.0" r="3.0" fill="url(#gb6)"/>
<circle cx="607.7" cy="225.7" r="3.0" fill="url(#gb6)"/>
<circle cx="604.7" cy="231.7" r="3.0" fill="url(#gb6)"/>
<circle cx="600.0" cy="240.3" r="3.0" fill="url(#gb6)"/>
<circle cx="592.1" cy="254.5" r="3.0" fill="url(#gb6)"/>
<circle cx="585.7" cy="267.9" r="3.0" fill="url(#gb6)"/>
<circle cx="583.3" cy="272.5" r="3.0" fill="url(#gb6)"/>
<circle cx="580.6" cy="278.9" r="3.0" fill="url(#gb6)"/>
<circle cx="576.6" cy="286.7" r="3.0" fill="url(#gb6)"/>
<circle cx="569.2" cy="302.6" r="3.0" fill="url(#gb6)"/>
<line x1="49" y1="131.2" x2="72" y2="131.2" stroke="#4f63c2" stroke-width="1.1" stroke-dasharray="4.4 4.6"/>
<text x="77.4" y="135.1" font-family="Liberation Serif" font-weight="bold" font-size="11" fill="#111">Linear fitting</text>
<line x1="152.4" y1="131.2" x2="175.4" y2="131.2" stroke="#6fd0f0" stroke-width="1.1" stroke-dasharray="4.4 4.6"/>
<text x="180.9" y="135.1" font-family="Liberation Serif" font-weight="bold" font-size="11" fill="#111">Linear fitting</text>
<line x1="256.5" y1="131.2" x2="279.5" y2="131.2" stroke="#6cc84e" stroke-width="1.1" stroke-dasharray="4.4 4.6"/>
<text x="285.5" y="135.1" font-family="Liberation Serif" font-weight="bold" font-size="11" fill="#111">Linear fitting</text>
<line x1="362.4" y1="131.2" x2="385.4" y2="131.2" stroke="#2f7f2f" stroke-width="1.1" stroke-dasharray="4.4 4.6"/>
<text x="391.2" y="135.1" font-family="Liberation Serif" font-weight="bold" font-size="11" fill="#111">Linear fitting</text>
<line x1="466" y1="131.2" x2="489" y2="131.2" stroke="#f0a565" stroke-width="1.1" stroke-dasharray="4.4 4.6"/>
<text x="494.5" y="135.1" font-family="Liberation Serif" font-weight="bold" font-size="11" fill="#111">Linear fitting</text>
<line x1="567.9" y1="129.7" x2="590.9" y2="129.7" stroke="#e44a44" stroke-width="1.1" stroke-dasharray="4.4 4.6"/>
<text x="596.7" y="133.6" font-family="Liberation Serif" font-weight="bold" font-size="11" fill="#111">Linear fitting</text>
<text x="74.2" y="152" font-family="Liberation Serif" font-weight="bold" font-size="17" fill="#000">450 nm</text>
<text x="175.2" y="152" font-family="Liberation Serif" font-weight="bold" font-size="17" fill="#000">1392 nm</text>
<text x="280.2" y="152" font-family="Liberation Serif" font-weight="bold" font-size="17" fill="#000">1536 nm</text>
<text x="386.3" y="152" font-family="Liberation Serif" font-weight="bold" font-size="17" fill="#000">2004 nm</text>
<text x="482.4" y="152" font-family="Liberation Serif" font-weight="bold" font-size="17" fill="#000">3370 nm</text>
<text x="583.1" y="152" font-family="Liberation Serif" font-weight="bold" font-size="17" fill="#000">9770 nm</text>
<text x="145.2" y="344.7" font-family="Liberation Serif" font-weight="bold" font-size="11" fill="#111" text-anchor="end">R<tspan font-size="7" dy="-4.5">2</tspan><tspan dy="4.5">=0.999</tspan></text>
<text x="249.7" y="344.7" font-family="Liberation Serif" font-weight="bold" font-size="11" fill="#111" text-anchor="end">R<tspan font-size="7" dy="-4.5">2</tspan><tspan dy="4.5">=0.999</tspan></text>
<text x="354.2" y="344.7" font-family="Liberation Serif" font-weight="bold" font-size="11" fill="#111" text-anchor="end">R<tspan font-size="7" dy="-4.5">2</tspan><tspan dy="4.5">=0.999</tspan></text>
<text x="458.2" y="344.7" font-family="Liberation Serif" font-weight="bold" font-size="11" fill="#111" text-anchor="end">R<tspan font-size="7" dy="-4.5">2</tspan><tspan dy="4.5">=0.999</tspan></text>
<text x="562.8" y="344.7" font-family="Liberation Serif" font-weight="bold" font-size="11" fill="#111" text-anchor="end">R<tspan font-size="7" dy="-4.5">2</tspan><tspan dy="4.5">=0.998</tspan></text>
<text x="657.1" y="344.7" font-family="Liberation Serif" font-weight="bold" font-size="11" fill="#111" text-anchor="end">R<tspan font-size="7" dy="-4.5">2</tspan><tspan dy="4.5">=0.999</tspan></text>
<text x="36.7" y="157.1" font-family="Liberation Serif" font-weight="bold" font-size="11.5" fill="#111" text-anchor="end">10<tspan font-size="7.6" dy="-4.8">0</tspan></text>
<text x="36.7" y="205.8" font-family="Liberation Serif" font-weight="bold" font-size="11.5" fill="#111" text-anchor="end">10<tspan font-size="7.6" dy="-4.8">−1</tspan></text>
<text x="36.7" y="254.6" font-family="Liberation Serif" font-weight="bold" font-size="11.5" fill="#111" text-anchor="end">10<tspan font-size="7.6" dy="-4.8">−2</tspan></text>
<text x="36.7" y="303.3" font-family="Liberation Serif" font-weight="bold" font-size="11.5" fill="#111" text-anchor="end">10<tspan font-size="7.6" dy="-4.8">−3</tspan></text>
<text x="36.7" y="352.0" font-family="Liberation Serif" font-weight="bold" font-size="11.5" fill="#111" text-anchor="end">10<tspan font-size="7.6" dy="-4.8">−4</tspan></text>
<text x="63.70" y="370.7" font-family="Liberation Serif" font-weight="bold" font-size="11" fill="#111" text-anchor="middle">0.01</text>
<text x="111.04" y="370.7" font-family="Liberation Serif" font-weight="bold" font-size="11" fill="#111" text-anchor="middle">1</text>
<text x="168.17" y="370.7" font-family="Liberation Serif" font-weight="bold" font-size="11" fill="#111" text-anchor="middle">0.01</text>
<text x="215.51" y="370.7" font-family="Liberation Serif" font-weight="bold" font-size="11" fill="#111" text-anchor="middle">1</text>
<text x="272.64" y="370.7" font-family="Liberation Serif" font-weight="bold" font-size="11" fill="#111" text-anchor="middle">0.01</text>
<text x="319.98" y="370.7" font-family="Liberation Serif" font-weight="bold" font-size="11" fill="#111" text-anchor="middle">1</text>
<text x="377.11" y="370.7" font-family="Liberation Serif" font-weight="bold" font-size="11" fill="#111" text-anchor="middle">0.01</text>
<text x="424.45" y="370.7" font-family="Liberation Serif" font-weight="bold" font-size="11" fill="#111" text-anchor="middle">1</text>
<text x="481.58" y="370.7" font-family="Liberation Serif" font-weight="bold" font-size="11" fill="#111" text-anchor="middle">0.01</text>
<text x="528.92" y="370.7" font-family="Liberation Serif" font-weight="bold" font-size="11" fill="#111" text-anchor="middle">1</text>
<text x="586.05" y="370.7" font-family="Liberation Serif" font-weight="bold" font-size="11" fill="#111" text-anchor="middle">0.01</text>
<text x="633.39" y="370.7" font-family="Liberation Serif" font-weight="bold" font-size="11" fill="#111" text-anchor="middle">1</text>
<text x="306" y="389" font-family="Liberation Serif" font-weight="bold" font-size="18.3" fill="#000">Power (mW)</text>
<text transform="translate(13.3,251.8) rotate(-90)" font-family="Liberation Serif" font-weight="bold" font-size="18.2" fill="#000" text-anchor="middle">Resonant amplitude (V)</text>
<text transform="translate(2.5,103.3) scale(0.885,1)" font-family="Liberation Sans" font-weight="bold" font-size="36.2" fill="#000">a</text>
<rect x="41.60" y="420.4" width="46.40" height="199.60" fill="#f3f8f6"/>
<rect x="88.00" y="420.4" width="97.65" height="199.60" fill="#eef7ef"/>
<rect x="185.65" y="420.4" width="69.86" height="199.60" fill="#fcfbf7"/>
<rect x="255.51" y="420.4" width="34.69" height="199.60" fill="#f2f1ef"/>
<text x="54.4" y="518.6" font-family="Liberation Serif" font-size="13" fill="#111">VIS</text>
<text x="111.8" y="518.6" font-family="Liberation Serif" font-size="13" fill="#111">NIR</text>
<text x="199.3" y="518.6" font-family="Liberation Serif" font-size="13" fill="#111">MWIR</text>
<text x="256.8" y="518.6" font-family="Liberation Serif" font-size="13" fill="#111">LWIR</text>
<path d="M45,584.8 L48,584.6 L50,587.5 L51.5,590.6 L55,591.6 L58,592.6 L60,593.4 L60,596.2 L55,595.2 L51.5,595.6 L50.4,595.7 L50.2,593.9 L45,593.9 Z" fill="#66c4e0"/>
<path d="M51.4,593.2 L53,593.0 L55,593.3 L58,594.4 L61.9,596.3 L66,597.3 L80,597.4 L100,597.5 L130,597.9 L160,598.3 L180,598.6 L181.5,598.6 L182,595.6 L182.6,598.6 L200,598.9 L209.5,599 L210,596.8 L210.6,599 L215,599.1 L221.1,598.6 L223.5,597 L225.7,595.5 L227.5,593 L228.7,590.1 L229.6,585 L230.2,577.9 L230.9,563 L231.5,553.5 L232.2,557 L233,565.7 L233.8,577 L234.5,582.5 L235.3,578 L236.3,570.3 L237.1,561 L237.9,550.5 L238.7,538 L239.4,526.1 L240.0,508 L240.5,497.7 L241.2,500 L242,510 L243,522 L244,535 L245,546 L245.8,551.5 L246.6,553.2 L247.3,550 L247.8,542.9 L248.6,532 L249.3,520 L249.9,505 L250.4,490 L250.8,475 L251.6,463.9 L253.4,459.5 L256.9,458.2 L260.8,457.9 L263,458.5 L265.2,459.5 L267,458 L269.2,455.6 L271,452 L272.7,449.4 L276.2,448.1 L280.5,449.9 L284.9,452.1 L287.5,451.2 L289.7,448.1" fill="none" stroke="#66c4e0" stroke-width="2.6" stroke-linejoin="round" stroke-linecap="round"/>
<circle cx="49.2" cy="586.9" r="3.3" fill="url(#grd)"/>
<circle cx="130.4" cy="593.4" r="3.3" fill="url(#grd)"/>
<circle cx="137.4" cy="598.7" r="3.3" fill="url(#grd)"/>
<circle cx="156.5" cy="600.2" r="3.3" fill="url(#grd)"/>
<circle cx="193.4" cy="604.0" r="3.3" fill="url(#grd)"/>
<circle cx="269.8" cy="451.6" r="3.3" fill="url(#grd)"/>
<path d="M41.6,604.50h4M41.6,589.16h2.2M41.6,573.82h4M41.6,558.47h2.2M41.6,543.13h4M41.6,527.79h2.2M41.6,512.45h4M41.6,497.10h2.2M41.6,481.76h4M41.6,466.42h2.2M41.6,451.08h4M41.6,435.73h2.2M41.6,420.39h4M42.14,620.0v-2.2M42.14,420.4v2.2M58.03,620.0v-4M58.03,420.4v4M71.02,620.0v-2.2M71.02,420.4v2.2M82.00,620.0v-2.2M82.00,420.4v2.2M91.51,620.0v-2.2M91.51,420.4v2.2M99.90,620.0v-2.2M99.90,420.4v2.2M107.40,620.0v-4M107.40,420.4v4M156.77,620.0v-2.2M156.77,420.4v2.2M185.65,620.0v-2.2M185.65,420.4v2.2M206.14,620.0v-2.2M206.14,420.4v2.2M222.03,620.0v-4M222.03,420.4v4M235.02,620.0v-2.2M235.02,420.4v2.2M246.00,620.0v-2.2M246.00,420.4v2.2M255.51,620.0v-2.2M255.51,420.4v2.2M263.90,620.0v-2.2M263.90,420.4v2.2M271.40,620.0v-4M271.40,420.4v4" stroke="#111" stroke-width="1" fill="none"/>
<path d="M290.2,608.00h-4M290.2,593.22h-2.2M290.2,578.43h-4M290.2,563.64h-2.2M290.2,548.86h-4M290.2,534.08h-2.2M290.2,519.29h-4M290.2,504.50h-2.2M290.2,489.72h-4M290.2,474.94h-2.2M290.2,460.15h-4M290.2,445.37h-2.2M290.2,430.58h-4" stroke="#d0503a" stroke-width="1" fill="none"/>
<path d="M290.2,420.4H41.6V620.0H290.2" fill="none" stroke="#222" stroke-width="1.2"/>
<path d="M290.2,419.79999999999995V620.6" fill="none" stroke="#d0503a" stroke-width="1.2"/>
<text x="37.6" y="607.9" font-family="Liberation Serif" font-weight="bold" font-size="11.3" fill="#111" text-anchor="end">0.0</text>
<text x="37.6" y="577.2" font-family="Liberation Serif" font-weight="bold" font-size="11.3" fill="#111" text-anchor="end">0.5</text>
<text x="37.6" y="546.5" font-family="Liberation Serif" font-weight="bold" font-size="11.3" fill="#111" text-anchor="end">1.0</text>
<text x="37.6" y="515.8" font-family="Liberation Serif" font-weight="bold" font-size="11.3" fill="#111" text-anchor="end">1.5</text>
<text x="37.6" y="485.2" font-family="Liberation Serif" font-weight="bold" font-size="11.3" fill="#111" text-anchor="end">2.0</text>
<text x="37.6" y="454.5" font-family="Liberation Serif" font-weight="bold" font-size="11.3" fill="#111" text-anchor="end">2.5</text>
<text x="37.6" y="423.8" font-family="Liberation Serif" font-weight="bold" font-size="11.3" fill="#111" text-anchor="end">3.0</text>
<text x="294.1" y="611.9" font-family="Liberation Serif" font-weight="bold" font-size="11.5" fill="#c8402a">0</text>
<text x="294.1" y="582.3" font-family="Liberation Serif" font-weight="bold" font-size="11.5" fill="#c8402a">50</text>
<text x="294.1" y="552.8" font-family="Liberation Serif" font-weight="bold" font-size="11.5" fill="#c8402a">100</text>
<text x="294.1" y="523.2" font-family="Liberation Serif" font-weight="bold" font-size="11.5" fill="#c8402a">150</text>
<text x="294.1" y="493.6" font-family="Liberation Serif" font-weight="bold" font-size="11.5" fill="#c8402a">200</text>
<text x="294.1" y="464.0" font-family="Liberation Serif" font-weight="bold" font-size="11.5" fill="#c8402a">250</text>
<text x="294.1" y="434.5" font-family="Liberation Serif" font-weight="bold" font-size="11.5" fill="#c8402a">300</text>
<text x="58.03" y="634" font-family="Liberation Serif" font-weight="bold" font-size="11" fill="#111" text-anchor="middle">500</text>
<text x="107.40" y="634" font-family="Liberation Serif" font-weight="bold" font-size="11" fill="#111" text-anchor="middle">1000</text>
<text x="222.03" y="634" font-family="Liberation Serif" font-weight="bold" font-size="11" fill="#111" text-anchor="middle">5000</text>
<text x="271.40" y="634" font-family="Liberation Serif" font-weight="bold" font-size="11" fill="#111" text-anchor="middle">10000</text>
<text x="109.6" y="651.2" font-family="Liberation Serif" font-weight="bold" font-size="17.1" fill="#000">Wavelength (nm)</text>
<text transform="translate(18,519.4) rotate(-90)" font-family="Liberation Serif" font-weight="bold" font-size="18.2" fill="#000" text-anchor="middle" textLength="155.4" lengthAdjust="spacingAndGlyphs">Extinction Ratio (dB)</text>
<text transform="translate(327.6,520.2) rotate(-90)" font-family="Liberation Serif" font-weight="bold" font-size="17" fill="#c8402a" text-anchor="middle">Photoresponsivity (V/W)</text>
<text x="0.6" y="421.4" font-family="Liberation Sans" font-weight="bold" font-size="34" fill="#000">b</text>
<line x1="415.6" y1="572.00" x2="665.0" y2="572.00" stroke="#dcdcdc" stroke-width="1"/>
<line x1="415.6" y1="521.80" x2="665.0" y2="521.80" stroke="#dcdcdc" stroke-width="1"/>
<line x1="415.6" y1="471.60" x2="665.0" y2="471.60" stroke="#dcdcdc" stroke-width="1"/>
<rect x="420.0" y="434.60" width="40.5" height="187.60" fill="#c44b35"/>
<rect x="470.1" y="492.38" width="40.5" height="129.82" fill="#78c8de"/>
<rect x="520.2" y="561.96" width="40.5" height="60.24" fill="#78c8de"/>
<rect x="570.2" y="561.96" width="40.5" height="60.24" fill="#78c8de"/>
<rect x="620.1" y="581.74" width="40.5" height="40.46" fill="#78c8de"/>
<path d="M415.6,622.20h4M665.0,622.20h-4M415.6,597.10h2.2M665.0,597.10h-2.2M415.6,572.00h4M665.0,572.00h-4M415.6,546.90h2.2M665.0,546.90h-2.2M415.6,521.80h4M665.0,521.80h-4M415.6,496.70h2.2M665.0,496.70h-2.2M415.6,471.60h4M665.0,471.60h-4M415.6,446.50h2.2M665.0,446.50h-2.2M415.6,421.40h4M665.0,421.40h-4M440.20,420.9v4M440.20,622.2v-4M465.22,420.9v2.2M465.22,622.2v-2.2M490.24,420.9v4M490.24,622.2v-4M515.26,420.9v2.2M515.26,622.2v-2.2M540.28,420.9v4M540.28,622.2v-4M565.30,420.9v2.2M565.30,622.2v-2.2M590.32,420.9v4M590.32,622.2v-4M615.34,420.9v2.2M615.34,622.2v-2.2M640.36,420.9v4M640.36,622.2v-4" stroke="#111" stroke-width="1" fill="none"/>
<rect x="415.6" y="420.9" width="249.40" height="201.30" fill="none" stroke="#111" stroke-width="1.2"/>
<text x="411.4" y="626.1" font-family="Liberation Serif" font-weight="bold" font-size="11.5" fill="#111" text-anchor="end">0</text>
<text x="411.4" y="575.9" font-family="Liberation Serif" font-weight="bold" font-size="11.5" fill="#111" text-anchor="end">100</text>
<text x="411.4" y="525.7" font-family="Liberation Serif" font-weight="bold" font-size="11.5" fill="#111" text-anchor="end">200</text>
<text x="411.4" y="475.5" font-family="Liberation Serif" font-weight="bold" font-size="11.5" fill="#111" text-anchor="end">300</text>
<text x="411.4" y="425.3" font-family="Liberation Serif" font-weight="bold" font-size="11.5" fill="#111" text-anchor="end">400</text>
<text x="440.3" y="633.8" font-family="Liberation Serif" font-weight="bold" font-size="10.4" fill="#c8402a" text-anchor="middle">LN-MFP</text>
<text x="490.3" y="633.8" font-family="Liberation Serif" font-size="11" fill="#111" text-anchor="middle">HPPD-B-</text>
<text x="540.4" y="633.8" font-family="Liberation Serif" font-size="11" fill="#111" text-anchor="middle">PDA13L2</text>
<text x="590.4" y="633.8" font-family="Liberation Serif" font-size="11" fill="#111" text-anchor="middle">PDAVJ10</text>
<text x="638.0" y="633.8" font-family="Liberation Serif" font-size="11" fill="#111" text-anchor="middle">PVI-10.6</text>
<text x="490.3" y="646.5" font-family="Liberation Serif" font-size="11" fill="#111" text-anchor="middle">D-10.6-10</text>
<text transform="translate(390,522) rotate(-90)" font-family="Liberation Serif" font-weight="bold" font-size="17" fill="#000" text-anchor="middle">Photoresponsivity (V/W)</text>
<text x="367.3" y="421.5" font-family="Liberation Sans" font-weight="bold" font-size="36.5" fill="#000">c</text></svg>
</body></html>
